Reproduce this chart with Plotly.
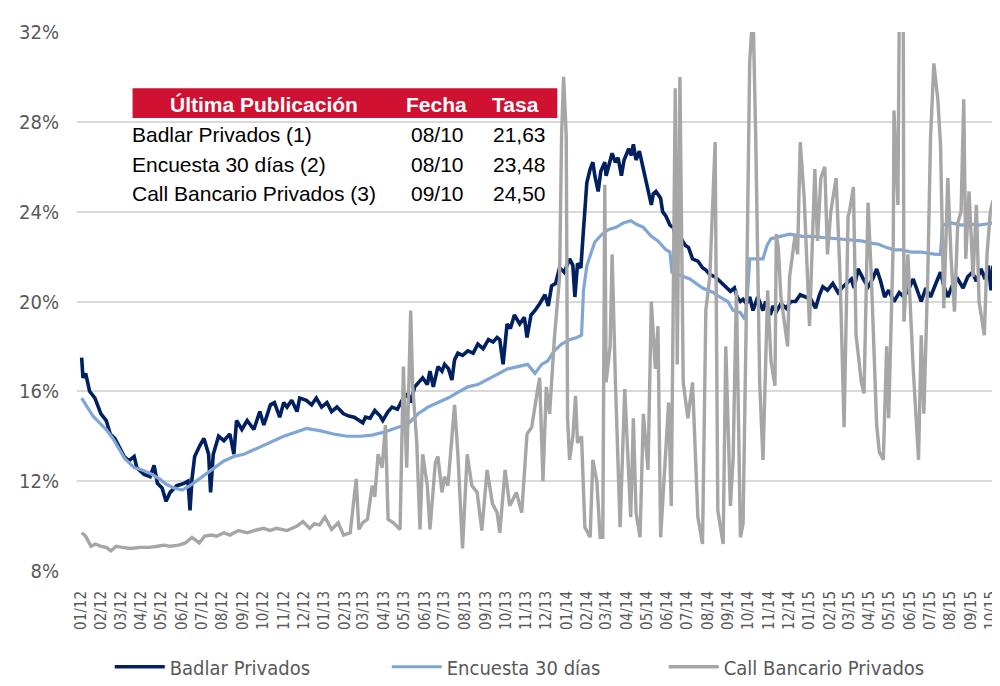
import plotly.graph_objects as go

# ---------------- data ----------------
badlar_dates = [
"2012-01-02","2012-01-04","2012-01-08","2012-01-14","2012-01-22","2012-01-26","2012-01-31","2012-02-08","2012-02-14","2012-02-21",
"2012-02-28","2012-03-06","2012-03-13","2012-03-21","2012-03-25","2012-04-05","2012-04-14","2012-04-20","2012-04-25","2012-05-02",
"2012-05-08","2012-05-14","2012-05-24","2012-06-04","2012-06-10","2012-06-13","2012-06-16","2012-06-20","2012-06-28","2012-07-04",
"2012-07-08","2012-07-11","2012-07-14","2012-07-18","2012-07-26","2012-08-03","2012-08-12","2012-08-18","2012-08-22","2012-08-30",
"2012-09-07","2012-09-17","2012-09-26","2012-10-02","2012-10-06","2012-10-12","2012-10-18","2012-10-26","2012-11-01","2012-11-06",
"2012-11-13","2012-11-21","2012-11-25","2012-12-05","2012-12-13","2012-12-20","2012-12-28","2013-01-05","2013-01-12","2013-01-20",
"2013-01-30","2013-02-07","2013-02-15","2013-02-22","2013-02-28","2013-03-04","2013-03-11","2013-03-18","2013-03-26","2013-03-30",
"2013-04-07","2013-04-13","2013-04-21","2013-04-28","2013-05-07","2013-05-11","2013-05-17","2013-05-23","2013-05-29","2013-06-05",
"2013-06-09","2013-06-14","2013-06-21","2013-06-27","2013-07-01","2013-07-07","2013-07-12","2013-07-16","2013-07-21","2013-07-28",
"2013-08-05","2013-08-13","2013-08-20","2013-08-28","2013-09-05","2013-09-12","2013-09-18","2013-09-22","2013-09-27","2013-10-03",
"2013-10-08","2013-10-14","2013-10-22","2013-10-29","2013-11-02","2013-11-08","2013-11-14","2013-11-21","2013-11-29","2013-12-04",
"2013-12-09","2013-12-15","2013-12-21","2013-12-28","2014-01-05","2014-01-10","2014-01-13","2014-01-17","2014-01-22","2014-01-25",
"2014-01-28","2014-01-31","2014-02-05","2014-02-09","2014-02-12","2014-02-17","2014-02-21","2014-02-27","2014-03-01","2014-03-07",
"2014-03-10","2014-03-15","2014-03-19","2014-03-24","2014-03-28","2014-04-04","2014-04-08","2014-04-11","2014-04-15","2014-04-20",
"2014-04-26","2014-05-03","2014-05-08","2014-05-11","2014-05-15","2014-05-22","2014-05-25","2014-05-30","2014-06-05","2014-06-10",
"2014-06-14","2014-06-20","2014-06-28","2014-07-03","2014-07-09","2014-07-17","2014-07-24","2014-07-29","2014-08-04","2014-08-12",
"2014-08-19","2014-08-27","2014-09-04","2014-09-10","2014-09-14","2014-09-19","2014-09-23","2014-09-28","2014-10-03","2014-10-08",
"2014-10-15","2014-10-23","2014-10-27","2014-11-03","2014-11-07","2014-11-12","2014-11-19","2014-11-27","2014-12-04","2014-12-11",
"2014-12-18","2014-12-26","2015-01-03","2015-01-10","2015-01-16","2015-01-21","2015-01-28","2015-02-05","2015-02-13","2015-02-20",
"2015-02-28","2015-03-05","2015-03-09","2015-03-15","2015-03-23","2015-03-30","2015-04-06","2015-04-12","2015-04-18","2015-04-24",
"2015-04-30","2015-05-08","2015-05-16","2015-05-23","2015-05-31","2015-06-06","2015-06-12","2015-06-18","2015-06-25","2015-07-02",
"2015-07-10","2015-07-17","2015-07-22","2015-07-28","2015-08-05","2015-08-12","2015-08-20","2015-08-27","2015-09-03","2015-09-09",
"2015-09-16","2015-09-22","2015-09-27","2015-10-01","2015-10-04"]
badlar_vals = [
17.5,16.6,16.8,16.0,15.7,15.4,15.0,14.7,14.1,13.9,
13.5,13.1,12.9,13.1,12.6,12.3,12.2,12.7,11.9,11.7,
11.1,11.5,11.8,11.9,12.0,10.7,12.1,13.1,13.6,13.9,
13.5,13.2,11.5,13.2,14.0,13.8,14.1,13.2,14.7,14.3,
14.7,14.3,15.1,14.5,14.85,15.4,15.5,14.85,15.5,15.3,
15.6,15.1,15.7,15.6,15.4,15.7,15.3,15.5,15.1,15.3,
15.0,14.9,14.85,14.7,14.6,14.85,14.8,15.15,14.9,14.7,
15.1,15.3,15.2,15.6,15.9,15.5,16.2,16.4,16.6,16.3,
16.9,16.2,17.1,16.9,17.2,17.0,16.5,17.4,17.7,17.6,
17.8,17.7,18.1,17.9,18.3,18.2,18.4,18.3,17.2,19.0,
18.8,19.4,19.0,19.3,18.4,19.4,19.6,19.9,20.3,19.8,
20.7,20.8,21.5,21.3,21.9,21.6,20.2,21.7,21.5,22.8,
24.2,25.3,25.9,26.2,25.6,24.9,25.8,26.2,25.6,26.3,
26.6,26.2,26.4,25.6,26.3,26.8,26.5,27.0,26.3,26.7,
25.9,25.1,24.3,24.8,24.9,24.6,24.0,23.8,23.4,23.3,
22.8,22.9,22.5,22.4,21.9,21.8,21.5,21.4,21.2,21.1,
20.9,20.7,20.45,20.6,20.2,20.0,20.1,19.9,20.2,19.6,
20.2,19.6,20.0,19.4,19.8,19.55,19.9,19.7,20.0,20.0,
20.3,20.2,20.1,19.7,20.3,20.65,20.5,20.8,20.4,20.65,
20.9,21.0,20.6,21.45,21.0,20.65,21.0,21.45,20.9,20.2,
20.5,20.0,20.4,20.2,20.6,21.0,20.5,20.0,20.6,20.2,
20.8,21.3,20.7,20.2,20.8,21.0,20.6,21.1,21.3,20.9,
21.45,21.0,21.6,20.5,21.6]

encuesta_dates = [
"2012-01-02","2012-01-10","2012-01-19","2012-01-29","2012-02-08","2012-02-18","2012-02-28","2012-03-07","2012-03-21","2012-04-02",
"2012-04-14","2012-04-28","2012-05-09","2012-05-20","2012-06-01","2012-06-13","2012-06-27","2012-07-08","2012-07-20","2012-08-03",
"2012-08-18","2012-09-02","2012-09-17","2012-10-02","2012-10-17","2012-11-01","2012-11-21","2012-12-05","2012-12-25","2013-01-15",
"2013-02-04","2013-02-24","2013-03-14","2013-04-03","2013-04-22","2013-05-07","2013-05-22","2013-06-06","2013-06-21","2013-07-06",
"2013-07-21","2013-08-05","2013-08-20","2013-09-05","2013-09-20","2013-10-04","2013-10-19","2013-11-03","2013-11-14","2013-11-24",
"2013-12-03","2013-12-13","2013-12-24","2014-01-05","2014-01-16","2014-01-23","2014-01-26","2014-01-31","2014-02-08","2014-02-12",
"2014-02-23","2014-03-04","2014-03-16","2014-03-27","2014-04-07","2014-04-15","2014-04-26","2014-05-08","2014-05-18","2014-05-30",
"2014-06-05","2014-06-08","2014-06-17","2014-07-05","2014-07-24","2014-08-09","2014-08-19","2014-08-31","2014-09-08","2014-09-19",
"2014-09-26","2014-09-30","2014-10-03","2014-10-15","2014-10-23","2014-10-29","2014-11-04","2014-11-18","2014-12-02","2014-12-21",
"2015-01-06","2015-01-21","2015-02-10","2015-02-28","2015-03-20","2015-04-04","2015-04-15","2015-04-27","2015-05-08","2015-05-19",
"2015-06-03","2015-06-18","2015-06-28","2015-07-10","2015-07-17","2015-07-20","2015-08-02","2015-08-17","2015-09-01","2015-09-12",
"2015-09-24","2015-10-04"]
encuesta_vals = [
15.7,15.3,14.9,14.6,14.3,13.9,13.4,13.0,12.6,12.5,
12.35,12.1,11.85,11.7,11.6,11.8,12.1,12.35,12.6,12.9,
13.1,13.2,13.4,13.6,13.8,14.0,14.2,14.35,14.25,14.1,
14.0,14.0,14.05,14.2,14.4,14.55,15.0,15.3,15.5,15.7,
15.95,16.2,16.3,16.55,16.75,17.0,17.1,17.2,16.8,17.2,
17.35,17.8,18.1,18.3,18.4,18.5,20.5,21.6,22.3,22.65,
23.0,23.2,23.3,23.5,23.6,23.45,23.3,22.9,22.7,22.3,
22.2,21.3,21.2,21.0,20.6,20.4,20.2,20.0,19.6,19.5,
19.2,20.5,21.9,21.9,21.9,22.5,22.8,22.9,23.0,22.9,
22.9,22.85,22.8,22.75,22.7,22.6,22.55,22.4,22.3,22.3,
22.2,22.2,22.15,22.1,22.1,23.4,23.5,23.4,23.45,23.4,
23.45,23.5]

call_dates = [
"2012-01-02","2012-01-08","2012-01-16","2012-01-23","2012-01-31","2012-02-08","2012-02-15","2012-02-23","2012-03-03","2012-03-15",
"2012-03-30","2012-04-13","2012-04-25","2012-05-05","2012-05-14","2012-05-27","2012-06-06","2012-06-16","2012-06-27","2012-07-05",
"2012-07-15","2012-07-23","2012-08-03","2012-08-12","2012-08-25","2012-09-07","2012-09-17","2012-10-02","2012-10-11","2012-10-21",
"2012-11-06","2012-11-21","2012-11-30","2012-12-10","2012-12-17","2012-12-25","2013-01-02","2013-01-12","2013-01-22","2013-01-30",
"2013-02-09","2013-02-18","2013-02-22","2013-02-28","2013-03-07","2013-03-14","2013-03-18","2013-03-23","2013-03-29","2013-04-03",
"2013-04-07","2013-04-15","2013-04-25","2013-04-30","2013-05-05","2013-05-11","2013-05-14","2013-05-20","2013-05-25","2013-05-29",
"2013-06-05","2013-06-09","2013-06-17","2013-06-21","2013-06-27","2013-07-01","2013-07-06","2013-07-16","2013-07-21","2013-07-28",
"2013-08-04","2013-08-11","2013-08-19","2013-08-26","2013-09-03","2013-09-11","2013-09-18","2013-09-22","2013-09-30","2013-10-07",
"2013-10-17","2013-10-25","2013-11-02","2013-11-09","2013-11-17","2013-11-21","2013-11-26","2013-12-01","2013-12-06","2013-12-13",
"2013-12-21","2013-12-24","2013-12-27","2013-12-31","2014-01-02","2014-01-05","2014-01-10","2014-01-14","2014-01-17","2014-01-23",
"2014-01-28","2014-02-05","2014-02-09","2014-02-15","2014-02-20","2014-02-24","2014-02-27","2014-03-01","2014-03-07","2014-03-10",
"2014-03-15","2014-03-22","2014-03-29","2014-04-07","2014-04-11","2014-04-15","2014-04-21","2014-04-26","2014-05-03","2014-05-08",
"2014-05-14","2014-05-18","2014-05-22","2014-05-28","2014-06-03","2014-06-07","2014-06-13","2014-06-16","2014-06-20","2014-06-25",
"2014-07-02","2014-07-09","2014-07-17","2014-07-24","2014-07-29","2014-08-04","2014-08-12","2014-08-16","2014-08-24","2014-08-28",
"2014-09-04","2014-09-08","2014-09-13","2014-09-19","2014-09-23","2014-09-28","2014-10-03","2014-10-08","2014-10-12","2014-10-18",
"2014-10-23","2014-10-30","2014-11-04","2014-11-10","2014-11-12","2014-11-15","2014-11-19","2014-11-25","2014-11-29","2014-12-02",
"2014-12-10","2014-12-14","2014-12-18","2014-12-24","2014-12-29","2015-01-01","2015-01-09","2015-01-13","2015-01-18","2015-01-24",
"2015-01-28","2015-02-02","2015-02-10","2015-02-16","2015-02-22","2015-02-28","2015-03-02","2015-03-08","2015-03-12","2015-03-20",
"2015-03-24","2015-03-30","2015-04-04","2015-04-12","2015-04-16","2015-04-22","2015-04-27","2015-04-30","2015-05-07","2015-05-08",
"2015-05-14","2015-05-16","2015-05-22","2015-05-23","2015-05-29","2015-06-06","2015-06-14","2015-06-18","2015-06-22","2015-06-28",
"2015-07-02","2015-07-07","2015-07-13","2015-07-17","2015-07-22","2015-07-28","2015-08-02","2015-08-07","2015-08-12","2015-08-17",
"2015-08-21","2015-08-24","2015-08-29","2015-09-04","2015-09-09","2015-09-13","2015-09-21","2015-09-25","2015-09-30","2015-10-04"]
call_vals = [
9.7,9.55,9.1,9.2,9.1,9.05,8.9,9.1,9.05,9.0,
9.05,9.05,9.1,9.15,9.1,9.15,9.25,9.5,9.25,9.55,
9.6,9.55,9.7,9.6,9.8,9.7,9.8,9.9,9.8,9.9,
9.8,10.0,10.2,9.9,10.1,10.05,10.4,9.85,10.15,9.6,
9.7,12.1,9.85,10.15,10.3,11.8,11.3,13.2,12.6,14.5,
10.3,10.15,9.85,17.1,12.6,19.6,16.2,13.8,9.85,13.2,
11.8,9.85,12.8,13.1,11.5,12.2,11.8,15.4,13.2,9.0,
13.2,11.8,11.5,9.8,12.5,11.0,10.6,9.7,12.5,10.9,
11.5,10.6,14.1,14.4,15.9,16.6,12.0,16.2,15.0,18.3,
21.1,27.4,30.0,27.4,14.8,12.95,14.0,15.8,13.7,14.0,
9.95,9.5,12.95,12.0,9.5,9.5,25.2,16.4,18.0,22.1,
16.4,9.95,16.1,10.4,14.8,10.6,9.5,15.0,12.5,20.0,
17.0,18.9,9.5,12.3,15.5,10.9,29.5,17.2,30.0,16.4,
14.8,16.4,10.4,9.2,19.6,21.1,27.1,10.7,9.2,18.0,
10.9,12.95,20.5,9.5,10.1,19.6,30.7,33.0,27.4,16.4,
12.95,20.5,17.35,16.25,23.0,22.4,20.2,18.9,18.0,21.1,
22.9,22.1,27.1,24.6,21.3,18.9,25.9,22.7,25.5,26.0,
22.1,24.0,25.5,21.1,14.4,23.8,24.0,25.1,18.5,16.4,
15.9,24.4,21.1,14.5,13.3,12.95,18.0,14.8,22.7,28.5,
24.3,33.0,33.0,19.1,22.1,17.0,12.95,18.5,15.0,21.3,
27.3,30.6,29.0,27.0,19.7,25.5,21.9,19.55,23.5,24.0,
29.0,21.9,24.9,21.1,24.3,20.0,18.5,22.1,24.0,24.5]

series_names = ["Badlar Privados", "Encuesta 30 días", "Call Bancario Privados"]
series_colors = ["#002060", "#7FA6D4", "#A6A6A6"]
series_widths = [3.6, 3.2, 3.4]

y_ticks = [8, 12, 16, 20, 24, 28, 32]
y_tick_labels = ["8%", "12%", "16%", "20%", "24%", "28%", "32%"]

table_header = ["Última Publicación", "Fecha", "Tasa"]
table_names = ["Badlar Privados (1)", "Encuesta 30 días (2)", "Call Bancario Privados (3)"]
table_dates = ["08/10", "08/10", "09/10"]
table_rates = ["21,63", "23,48", "24,50"]

# ---------------- figure ----------------
fig = go.Figure()
for name, dates, vals, col, wd in zip(series_names,
                                      [badlar_dates, encuesta_dates, call_dates],
                                      [badlar_vals, encuesta_vals, call_vals],
                                      series_colors, series_widths):
    fig.add_trace(go.Scatter(x=dates, y=vals, mode="lines", name=name,
                             line=dict(color=col, width=wd)))

W, H = 1000, 686
L, R, T, B = 69, 8, 24, 116
pw, ph = W - L - R, H - T - B

def px(x):
    return (x - L) / pw

def py(y):
    return (H - B - y) / ph

narrow = "DejaVu Sans Condensed, Liberation Sans Narrow, Liberation Sans, sans-serif"
arial = "Liberation Sans, Arial, sans-serif"

fig.update_layout(
    width=W, height=H, autosize=False,
    margin=dict(l=L, r=R, t=T, b=B),
    plot_bgcolor="white", paper_bgcolor="white",
    showlegend=True,
    legend=dict(orientation="h", x=px(102), xanchor="left", y=py(667), yanchor="middle",
                font=dict(family=narrow, size=20, color="#595959"),
                entrywidth=212, entrywidthmode="pixels", bgcolor="rgba(0,0,0,0)",
                itemwidth=50),
    xaxis=dict(type="date", range=["2011-12-26", "2015-10-04"],
               tick0="2012-01-01", dtick="M1", tickformat="%m/%y", tickangle=-90,
               showgrid=False, zeroline=False, showline=False, ticks="",
               tickfont=dict(family=narrow, size=15, color="#595959"),
               ticklabelstandoff=16, ticklabeloverflow="allow"),
    yaxis=dict(range=[8, 32], tickvals=y_ticks, ticktext=y_tick_labels,
               showgrid=True, gridcolor="#D9D9D9", gridwidth=1.5,
               zeroline=False, showline=False, ticks="",
               tickfont=dict(family=narrow, size=20, color="#595959"),
               ticklabelstandoff=17),
)

# table header
fig.add_shape(type="rect", xref="paper", yref="paper",
              x0=px(125), x1=px(553), y0=py(111), y1=py(81),
              fillcolor="#D01131", line=dict(width=0), layer="above")
hdr_x = [257, 431, 511]
for txt, hx in zip(table_header, hdr_x):
    fig.add_annotation(xref="paper", yref="paper", x=px(hx), y=py(97),
                       text="<b>" + txt + "</b>", showarrow=False,
                       xanchor="center", yanchor="middle",
                       font=dict(family=arial, size=21, color="white"))
row_y = [128, 158, 188]
for nm, dt, rt, ry in zip(table_names, table_dates, table_rates, row_y):
    fig.add_annotation(xref="paper", yref="paper", x=px(122), y=py(ry), text=nm,
                       showarrow=False, xanchor="left", yanchor="middle",
                       font=dict(family=arial, size=21, color="black"))
    fig.add_annotation(xref="paper", yref="paper", x=px(432), y=py(ry), text=dt,
                       showarrow=False, xanchor="center", yanchor="middle",
                       font=dict(family=arial, size=21, color="black"))
    fig.add_annotation(xref="paper", yref="paper", x=px(544), y=py(ry), text=rt,
                       showarrow=False, xanchor="right", yanchor="middle",
                       font=dict(family=arial, size=21, color="black"))

fig.write_html("out.html")
